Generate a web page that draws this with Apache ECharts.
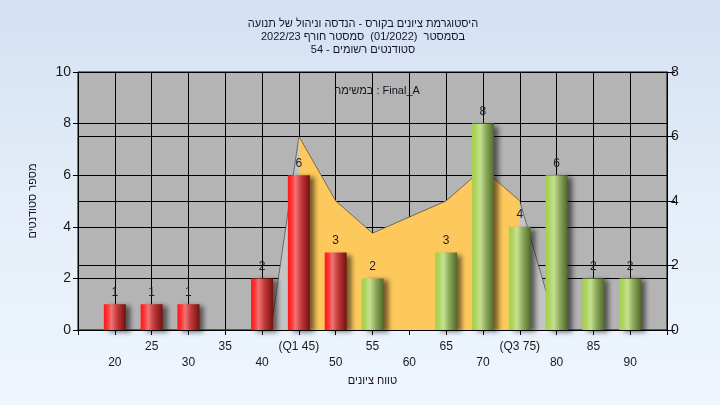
<!DOCTYPE html>
<html><head><meta charset="utf-8">
<script src="https://cdn.jsdelivr.net/npm/echarts@6/dist/echarts.min.js"></script>
<style>
html,body{margin:0;padding:0;}
#c{width:720px;height:405px;background:linear-gradient(to bottom,#d4e1f3 0%,#e6eff9 55%,#eef5fd 100%);}
</style>
</head><body><div id="c"></div>
<script>
// ---- data ----
const titleLines = [
  'היסטוגרמת ציונים בקורס - הנדסה וניהול של תנועה',
  'בסמסטר  (01/2022)  סמסטר חורף 2022/23',
  'סטודנטים רשומים - 54'
];
const taskLabel = 'במשימה : Final_A';
const yName = 'מספר סטודנטים';
const xName = 'טווח ציונים';
const grades = [20,25,30,35,40,45,50,55,60,65,70,75,80,85,90];
const counts = [1,1,1,0,2,6,3,2,0,3,8,4,6,2,2];
const tickLabels = ['20','25','30','35','40','(Q1 45)','50','55','60','65','70','(Q3 75)','80','85','90'];
const passGrade = 55;
const iqrX = [45,50,55,60,65,70,75];
const iqrY = [6,4,3,3.5,4,5,4];
const rangeX = [41.2,45,50,55,60,65,70,75,80.1];
const rangeY = [0,6,4,3,3.5,4,5,4,0];

// ---- chart ----
const FONT = 'Liberation Sans, Arial, DejaVu Sans, sans-serif';
const chart = echarts.init(document.getElementById('c'), null, {renderer:'canvas'});
const redGrad = new echarts.graphic.LinearGradient(0,0,1,0,[
  {offset:0,color:'#ff1818'},{offset:0.15,color:'#ff3030'},{offset:0.35,color:'#ee7474'},
  {offset:0.6,color:'#c43a3a'},{offset:1,color:'#761010'}]);
const greenGrad = new echarts.graphic.LinearGradient(0,0,1,0,[
  {offset:0,color:'#a4d04c'},{offset:0.15,color:'#acd458'},{offset:0.38,color:'#c6e094'},
  {offset:0.65,color:'#8aa85a'},{offset:1,color:'#52682a'}]);
const labelMap = {};
grades.forEach((g,i)=>labelMap[g]=tickLabels[i]);

chart.setOption({
  animation:false,
  backgroundColor:'transparent',
  textStyle:{fontFamily:FONT},
  title:[{
    text: titleLines.join('\n'),
    left:358, top:12, textAlign:'center',
    textStyle:{fontSize:11, fontWeight:'normal', color:'#141430', lineHeight:13, fontFamily:FONT}
  },{
    text: taskLabel, left:372, top:80, textAlign:'center',
    textStyle:{fontSize:11, fontWeight:'normal', color:'#1a1020', fontFamily:FONT}
  }],
  grid:{left:78, right:53, top:72, bottom:75, show:true, backgroundColor:'#b4b4b4', borderColor:'#000', borderWidth:1},
  xAxis:{
    type:'value', min:15, max:95, interval:5,
    name:xName, nameLocation:'middle', nameGap:44,
    nameTextStyle:{fontSize:11, color:'#1a1020', fontFamily:FONT},
    axisLine:{show:true, lineStyle:{color:'#000'}},
    axisTick:{show:true, length:5, lineStyle:{color:'#000'}},
    splitLine:{show:true, lineStyle:{color:'#000', width:1}},
    axisLabel:{
      margin:9, fontSize:12, color:'#1a1a1a', lineHeight:16, fontFamily:FONT,
      formatter:(v)=>{
        if(!(v in labelMap)) return '';
        return (v % 10 === 0) ? '\n' + labelMap[v] : labelMap[v];
      }
    }
  },
  yAxis:[{
    type:'value', min:0, max:10, interval:2, position:'left',
    name:yName, nameLocation:'middle', nameGap:40, nameRotate:90,
    nameTextStyle:{fontSize:11, color:'#1a1020', fontFamily:FONT},
    axisLine:{show:true, lineStyle:{color:'#000'}},
    axisTick:{show:true, length:5, lineStyle:{color:'#000'}},
    splitLine:{show:true, lineStyle:{color:'#000', width:1}},
    axisLabel:{margin:7, fontSize:14, color:'#1a1a1a', fontFamily:FONT}
  },{
    type:'value', min:0, max:8, interval:2, position:'right',
    axisLine:{show:true, lineStyle:{color:'#000'}},
    axisTick:{show:true, length:8, lineStyle:{color:'#000'}},
    splitLine:{show:true, lineStyle:{color:'#000', width:1}},
    axisLabel:{margin:4, fontSize:14, color:'#1a1a1a', fontFamily:FONT}
  }],
  series:[{
    type:'line', yAxisIndex:1, z:1, symbol:'none',
    data: rangeX.map((x,i)=>[x, rangeY[i]]),
    lineStyle:{width:1, color:'rgba(50,50,50,0.6)'},
    areaStyle:{color:'#c4c4c4', opacity:1}
  },{
    type:'line', yAxisIndex:1, z:2, symbol:'none',
    data: iqrX.map((x,i)=>[x, iqrY[i]]),
    lineStyle:{width:1, color:'rgba(110,90,60,0.6)'},
    areaStyle:{color:'#fec95c', opacity:1}
  },{
    type:'bar', yAxisIndex:0, z:3, barWidth:22,
    data: grades.map((g,i)=>({
      value:[g, counts[i]],
      itemStyle:{color: g >= passGrade ? greenGrad : redGrad}
    })),
    itemStyle:{shadowColor:'rgba(0,0,0,0.55)', shadowBlur:5, shadowOffsetX:5, shadowOffsetY:2},
    label:{show:true, position:'top', distance:6, fontSize:12, color:'#1a1a2a', fontFamily:FONT,
      formatter:(p)=> p.value[1] ? String(p.value[1]) : ''}
  }]
});
</script>
</body></html>
